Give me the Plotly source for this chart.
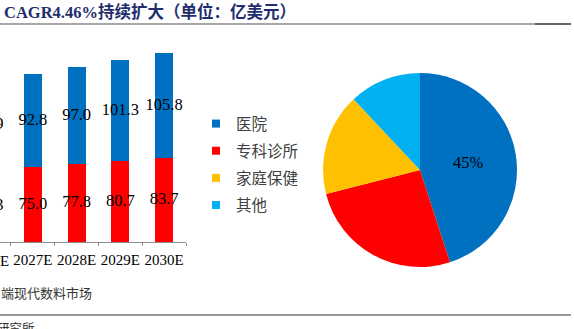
import plotly.graph_objects as go

# ---- data ----
years = ["2026E", "2027E", "2028E", "2029E", "2030E"]
clinic_vals = [72.3, 75.0, 77.8, 80.7, 83.7]      # red (bottom)
hospital_vals = [88.9, 92.8, 97.0, 101.3, 105.8]  # blue (top)

pie_labels = ["医院", "专科诊所", "家庭保健", "其他"]
pie_values = [45, 26, 17, 12]

title_text = "CAGR4.46%持续扩大（单位：亿美元）"
source_text = "端现代数料市场"
footer_text = "研究所"

# ---- styles ----
BLUE, RED, YELLOW, CYAN = "#0070C0", "#FF0000", "#FFC000", "#00B0F0"
pie_colors = [BLUE, RED, YELLOW, CYAN]
W, H = 574, 329
SERIF = "Liberation Serif, Times New Roman, serif"
CJK = "Noto Sans CJK SC, sans-serif"
X_DOMAIN = [0, 186 / W]
X_RANGE = [0.25, 4.5]

fig = go.Figure()

fig.add_trace(go.Bar(x=years, y=clinic_vals, marker=dict(color=RED, line=dict(width=0)),
                     width=0.41, showlegend=False, hoverinfo="skip"))
fig.add_trace(go.Bar(x=years, y=hospital_vals, marker=dict(color=BLUE, line=dict(width=0)),
                     width=0.41, showlegend=False, hoverinfo="skip"))

# segment labels (centered in each segment, may overflow the bar width)
fig.add_trace(go.Scatter(x=years, y=[v / 2 for v in clinic_vals], mode="text",
                         text=[f"{v:.1f}" for v in clinic_vals],
                         textfont=dict(family=SERIF, size=16.5, color="#000"),
                         showlegend=False, hoverinfo="skip"))
fig.add_trace(go.Scatter(x=years, y=[c + h / 2 for c, h in zip(clinic_vals, hospital_vals)],
                         mode="text", text=[f"{v:.1f}" for v in hospital_vals],
                         textfont=dict(family=SERIF, size=16.5, color="#000"),
                         showlegend=False, hoverinfo="skip"))

# pie
fig.add_trace(go.Pie(labels=pie_labels, values=pie_values, sort=False, direction="clockwise",
                     rotation=0, marker=dict(colors=pie_colors, line=dict(width=0)),
                     texttemplate=["%{percent:.0%}"] + [""] * (len(pie_values) - 1),
                     textposition="inside", insidetextorientation="horizontal",
                     textfont=dict(family=SERIF, size=16.5, color="#000"),
                     domain=dict(x=[323 / W, 517 / W], y=[1 - 267 / H, 1 - 73 / H]),
                     showlegend=False, hoverinfo="skip"))

# legend entries
for lab, col in zip(pie_labels, pie_colors):
    fig.add_trace(go.Scatter(x=[None], y=[None], mode="markers", name=lab, legendgroup=lab,
                             marker=dict(symbol="square", size=8, color=col)))

# tick label of the first category, which lies left of the visible axis range
first_x = X_DOMAIN[0] + (0 - X_RANGE[0]) / (X_RANGE[1] - X_RANGE[0]) * (X_DOMAIN[1] - X_DOMAIN[0])

fig.update_layout(
    width=W, height=H, margin=dict(l=0, r=0, t=0, b=0),
    paper_bgcolor="white", plot_bgcolor="white", barmode="stack",
    xaxis=dict(domain=X_DOMAIN, type="category", range=X_RANGE,
               tickson="boundaries", ticks="outside", ticklen=3, tickcolor="#8c8c8c",
               showline=True, linecolor="#8c8c8c", linewidth=1, showgrid=False, tickangle=0,
               tickfont=dict(family=SERIF, size=15, color="#000"), ticklabelstandoff=4,
               fixedrange=True),
    yaxis=dict(domain=[1 - 242 / H, 1 - 42 / H], range=[0, 200], visible=False, fixedrange=True),
    legend=dict(x=196 / W, xanchor="left", y=1 - 164.5 / H, yanchor="middle",
                traceorder="grouped", tracegroupgap=4,
                font=dict(family=CJK, size=15.5, color="#404040"), bgcolor="rgba(0,0,0,0)"),
    annotations=[
        dict(text=years[0], xref="paper", yref="paper", x=first_x, y=1 - 261 / H,
             xanchor="center", yanchor="middle", showarrow=False,
             font=dict(family=SERIF, size=15, color="#000")),
        dict(text="<b>" + title_text + "</b>", xref="paper", yref="paper", x=2 / W, y=1 - 12 / H,
             xanchor="left", yanchor="middle", showarrow=False,
             font=dict(family="Liberation Serif, Noto Sans CJK SC", size=16.5, color="#1f2d6e")),
        dict(text=source_text, xref="paper", yref="paper", x=-1 / W, y=1 - 292 / H,
             xanchor="left", yanchor="middle", showarrow=False,
             font=dict(family=CJK, size=13, color="#333")),
        dict(text=footer_text, xref="paper", yref="paper", x=-5 / W, y=1 - 327 / H,
             xanchor="left", yanchor="middle", showarrow=False,
             font=dict(family=CJK, size=12.5, color="#333")),
    ],
    shapes=[
        dict(type="line", xref="paper", yref="paper", x0=0, x1=535 / W, y0=1 - 24 / H, y1=1 - 24 / H,
             line=dict(color="#8a8a8a", width=1.5)),
        dict(type="line", xref="paper", yref="paper", x0=535 / W, x1=571 / W, y0=1 - 24 / H, y1=1 - 24 / H,
             line=dict(color="#333", width=1.5)),
        dict(type="line", xref="paper", yref="paper", x0=0, x1=571 / W, y0=1 - 315 / H, y1=1 - 315 / H,
             line=dict(color="#333", width=1)),
    ],
)

fig.write_html("out.html", config=dict(displayModeBar=False, responsive=False),
               post_script="document.documentElement.style.overflow='hidden';"
                           "document.body.style.margin='0';document.body.style.overflow='hidden';")
